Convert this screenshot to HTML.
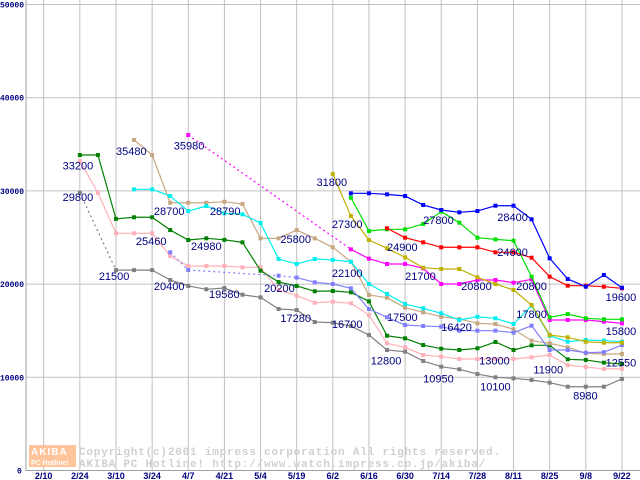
<!DOCTYPE html>
<html><head><meta charset="utf-8">
<style>
html,body{margin:0;padding:0;background:#fff;}
svg{display:block;}
.yl{font:bold 8px "Liberation Mono",monospace;fill:#000080;}
.xl{font:bold 9px "Liberation Sans",sans-serif;fill:#000080;}
.vl{font:11px "Liberation Sans",sans-serif;fill:#000080;}
.cp{font:bold 11px "Liberation Mono",monospace;fill:#d0d0d0;letter-spacing:0.8px;}
</style></head>
<body>
<svg id="chart" width="640" height="480" xmlns="http://www.w3.org/2000/svg">
<g id="grid"></g>
<g id="axes"></g>
<g id="watermark">
  <rect x="29" y="445" width="47" height="22" fill="#ffc49a"/>
  <text x="31" y="455" style="font:bold 10px 'Liberation Sans',sans-serif;fill:#fff;letter-spacing:1px">AKIBA</text>
  <text x="31" y="465" style="font:bold 7px 'Liberation Sans',sans-serif;fill:#fff">PC Hotline!</text>
  <text class="cp" x="79" y="455">Copyright(c)2001 impress corporation All rights reserved.</text>
  <text class="cp" x="79" y="467">AKIBA PC Hotline!  http://www.watch.impress.co.jp/akiba/</text>
</g>
<g id="series"></g>
<g id="labels"></g>
</svg>
<script>
const xTicks = ["2/10","2/24","3/10","3/24","4/7","4/21","5/4","5/19","6/2","6/16","6/30","7/14","7/28","8/11","8/25","9/8","9/22"];
const yTicks = [0,10000,20000,30000,40000,50000];
const N = null;
const darkGreen = [N,N,33850,33850,27000,27170,27170,25800,24730,24910,24750,24480,21440,20220,19800,19230,19260,19120,18150,14460,14180,13460,13070,12930,13110,13790,12930,13430,13430,11930,11860,11570,11430];
const pink = [N,N,33210,29800,25450,25450,25460,23010,21940,21940,21940,21800,21800,19370,18760,18000,18110,17940,16680,13650,13220,12390,12210,11960,11960,11960,11960,12150,12390,11300,11100,10900,10900];
const gray = [N,N,29800,N,21500,21500,21500,20440,19800,19440,19580,18860,18580,17330,17220,15930,15860,15500,14540,12930,12750,11750,11140,10860,10350,10000,9890,9710,9420,8990,8990,8990,9820];
const tan = [N,N,N,N,N,35460,33850,28730,28730,28730,28840,28590,24910,24910,25800,24910,23950,22400,18830,18540,17470,16970,16500,16260,15790,15720,15150,13930,13650,13220,12580,12500,12500];
const cyan = [N,N,N,N,N,30170,30170,29450,27840,28380,27600,27490,26560,22690,22160,22690,22590,22400,20010,18940,17860,17400,16870,16150,16500,16330,15720,17680,14460,13820,14000,13930,13820];
const lavender = [N,N,N,N,N,N,N,23410,21510,N,N,N,N,20900,20700,20190,20010,19550,17330,16440,15610,15500,15430,15000,15000,15000,14790,15540,12930,12930,12640,12700,13460];
const magenta = [N,N,N,N,N,N,N,N,36000,N,N,N,N,N,N,N,N,23730,22730,22160,22160,21690,20010,20010,20440,20440,20150,20510,16150,16150,16150,15970,15790];
const olive = [N,N,N,N,N,N,N,N,N,N,N,N,N,N,N,N,31810,27310,24730,23840,22870,21760,21620,21620,20730,20010,19370,17760,14540,14290,13820,13710,13710];
const lime = [N,N,N,N,N,N,N,N,N,N,N,N,N,N,N,N,N,29270,25700,25880,25880,26450,27770,26590,24980,24800,24660,20800,16440,16790,16330,16220,16220];
const red = [N,N,N,N,N,N,N,N,N,N,N,N,N,N,N,N,N,N,N,25990,24980,24480,23950,23950,23950,23410,23410,22830,20800,19830,19830,19720,19550];
const blue = [N,N,N,N,N,N,N,N,N,N,N,N,N,N,N,N,N,29740,29740,29630,29450,28490,27950,27700,27840,28410,28410,26950,22770,20550,19720,20980,19610];
const labelTexts = ["33200","29800","35480","35980","28700","28790","25460","24980","25800","21500","20400","19580","20200","17280","31800","27300","24900","27800","21700","22100","28400","24600","20800","20800","19600","17500","16420","17800","15800","16700","12800","13000","11900","12550","10950","10100","8980"];
const labelWeeks = [1.05,1.05,4,7.2,6.1,9.2,5.1,8.15,13.1,3.05,6.1,9.15,12.2,13.1,15.1,15.95,19,21,20,15.95,25.1,25.1,23.1,26.15,31.1,19,22,26.15,31.1,15.95,18.1,24.1,27.1,31.1,21,24.15,29.3];
const labelValues = [32300,28900,33850,34430,27410,27410,24190,23650,24400,20420,19350,18490,19140,15930,30520,26030,23540,26460,20420,20740,26780,23010,19350,19350,18170,16040,14970,16360,14540,15280,11370,11370,10390,11160,9440,8580,7620];

const X0=43.7, DX=18.07, Y0=470.5, KY=0.00932;
function xs(i){return X0+i*DX;}
function ys(v){return Y0-v*KY;}
const NS="http://www.w3.org/2000/svg";
function mk(tag,attrs,parent){const e=document.createElementNS(NS,tag);for(const k in attrs)e.setAttribute(k,attrs[k]);parent.appendChild(e);return e;}

const grid=document.getElementById('grid');
const axes=document.getElementById('axes');
yTicks.forEach(function(v){
  if(v>0){
    const l=mk('line',{x1:26,x2:640,y1:ys(v),y2:ys(v),stroke:'#c0c0c0','stroke-width':1},grid);
    
    
  }
  const t=mk('text',{x:v===0?17:0,y:ys(v)+3,class:'yl'},axes);
  t.textContent=String(v);
  
  
});
xTicks.forEach(function(s,k){
  const x=xs(k*2);
  const l=mk('line',{x1:x,x2:x,y1:0,y2:470,stroke:'#c0c0c0','stroke-width':1},grid);
  
  
  const t=mk('text',{x:x,y:479,class:'xl','text-anchor':'middle'},axes);
  t.textContent=s;
  
  
});
const ya=mk('line',{x1:26,x2:26,y1:0,y2:471,stroke:'#a0a0a0','stroke-width':1},axes);


const xa=mk('line',{x1:26,x2:640,y1:470.5,y2:470.5,stroke:'#a0a0a0','stroke-width':1},axes);



const seriesList=[
 {name:'series-gray',data:gray,color:'#808080',dashTo:4},
 {name:'series-pink',data:pink,color:'#ffb0b8',dashTo:-1},
 {name:'series-dark-green',data:darkGreen,color:'#008000',dashTo:-1},
 {name:'series-tan',data:tan,color:'#c8a880',dashTo:-1},
 {name:'series-cyan',data:cyan,color:'#00f0f0',dashTo:-1},
 {name:'series-lavender',data:lavender,color:'#8080ff',dashTo:14},
 {name:'series-magenta',data:magenta,color:'#ff00ff',dashTo:17},
 {name:'series-olive',data:olive,color:'#c0b000',dashTo:-1},
 {name:'series-lime',data:lime,color:'#00e000',dashTo:-1},
 {name:'series-red',data:red,color:'#ff0000',dashTo:-1},
 {name:'series-blue',data:blue,color:'#0000ff',dashTo:-1}
];
const sg=document.getElementById('series');
seriesList.forEach(function(s){
  const g=mk('g',{},sg);
  
  
  let prev=-1;
  s.data.forEach(function(v,i){
    if(v===null)return;
    if(prev>=0){
      const dashed=i<=s.dashTo;
      const seg=mk('line',{x1:xs(prev),y1:ys(s.data[prev]),x2:xs(i),y2:ys(v),stroke:s.color,'stroke-width':1.2},g);
      if(dashed)seg.setAttribute('stroke-dasharray','2,3');
      
      
    }
    prev=i;
  });
  s.data.forEach(function(v,i){
    if(v===null)return;
    const r=mk('rect',{x:xs(i)-2,y:ys(v)-2,width:4,height:4,fill:s.color},g);
    
    
  });
});
const lg=document.getElementById('labels');
labelTexts.forEach(function(txt,k){
  const t=mk('text',{x:xs(labelWeeks[k]),y:ys(labelValues[k]),class:'vl'},lg);
  t.textContent=txt;
  
  
});
</script>
</body></html>
